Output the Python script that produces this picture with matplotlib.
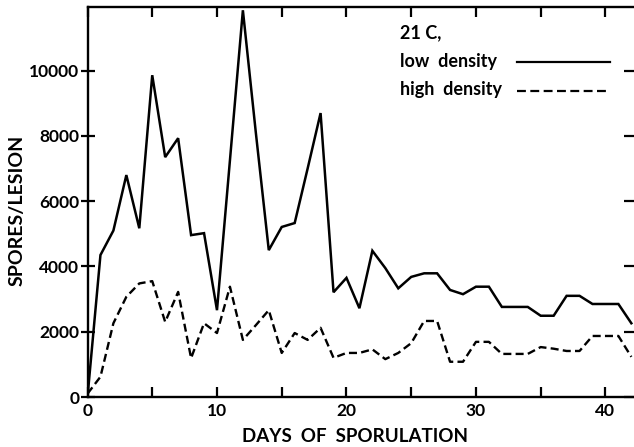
import matplotlib
matplotlib.use("Agg")
import matplotlib.pyplot as plt
from matplotlib.ticker import MultipleLocator

plt.rcParams['font.family'] = ['Lato', 'DejaVu Sans']

days = list(range(0, 43))
low_density = [0, 4350, 5100, 6800, 5170, 9860, 7350, 7930, 4960, 5020,
               2660, 7250, 11850, 8100, 4500, 5210, 5330, 7000, 8700, 3210,
               3650, 2720, 4480, 3950, 3330, 3680, 3790, 3790, 3280, 3150,
               3380, 3380, 2760, 2760, 2760, 2490, 2490, 3100, 3100, 2850,
               2850, 2850, 2260]
high_density = [100, 620, 2260, 3070, 3480, 3550, 2300, 3220, 1190, 2260,
                1960, 3380, 1750, 2200, 2660, 1350, 1960, 1750, 2120, 1200,
                1350, 1350, 1460, 1160, 1350, 1650, 2330, 2330, 1080, 1080,
                1690, 1690, 1320, 1320, 1320, 1530, 1480, 1410, 1410, 1870,
                1870, 1870, 1230]

x_ticks_labeled = [0, 10, 20, 30, 40]
y_ticks = [0, 2000, 4000, 6000, 8000, 10000]
legend_title = "21 C,"
legend_labels = ["low  density", "high  density"]
x_label = "DAYS  OF  SPORULATION"
y_label = "SPORES/LESION"

fig = plt.figure(figsize=(6.34, 4.47), dpi=100)
L, R, B, T = 87.5, 636.0, 397.0, 7.0
W, H = 634.0, 447.0
ax = fig.add_axes([L / W, 1 - B / H, (R - L) / W, (B - T) / H])

ax.plot(days, low_density, color='black', lw=1.8, solid_joinstyle='miter')
ax.plot(days, high_density, color='black', lw=1.7, dashes=(3.4, 1.8))

ax.set_xlim(0, 42.36)
ax.set_ylim(0, 11950)

for s in ax.spines.values():
    s.set_linewidth(1.7)

ax.xaxis.set_major_locator(MultipleLocator(10))
ax.xaxis.set_minor_locator(MultipleLocator(5))
ax.set_yticks(y_ticks)
ax.set_xticks(x_ticks_labeled)
ax.set_xticklabels([str(v) for v in x_ticks_labeled])
ax.set_yticklabels([str(v) for v in y_ticks])

ax.tick_params(axis='x', which='both', direction='in', length=7, width=1.6,
               top=True, bottom=True, labelsize=12.5, pad=4)
ax.tick_params(axis='y', which='major', direction='inout', length=10, width=1.6,
               left=True, right=False, labelsize=12.5, pad=1)
for lab in ax.get_xticklabels() + ax.get_yticklabels():
    lab.set_fontweight('bold')

# right-side inward ticks
ax2 = ax.twinx()
ax2.set_ylim(ax.get_ylim())
ax2.set_yticks(y_ticks)
ax2.tick_params(axis='y', direction='in', length=9, width=1.6, labelright=False)
for s in ax2.spines.values():
    s.set_visible(False)

fig.text(17 / W, 1 - 210 / H, y_label, rotation=90, ha='center', va='center',
         fontsize=14, fontweight='bold')
fig.text(355 / W, 1 - 437 / H, x_label, ha='center', va='center',
         fontsize=13.5, fontweight='bold')

fs = 13
fig.text(400 / W, 1 - 33 / H, legend_title, ha='left', va='center', fontsize=fs, fontweight='bold')
fig.text(400 / W, 1 - 62 / H, legend_labels[0], ha='left', va='center', fontsize=fs, fontweight='bold')
fig.text(400 / W, 1 - 90 / H, legend_labels[1], ha='left', va='center', fontsize=fs, fontweight='bold')
fig.add_artist(plt.Line2D([517 / W, 610 / W], [1 - 62 / H, 1 - 62 / H], color='black', lw=1.6,
                          transform=fig.transFigure))
fig.add_artist(plt.Line2D([517 / W, 610 / W], [1 - 91 / H, 1 - 91 / H], color='black', lw=1.6,
                          dashes=(4.0, 2.0), transform=fig.transFigure))

fig.savefig("out.png", dpi=100)
